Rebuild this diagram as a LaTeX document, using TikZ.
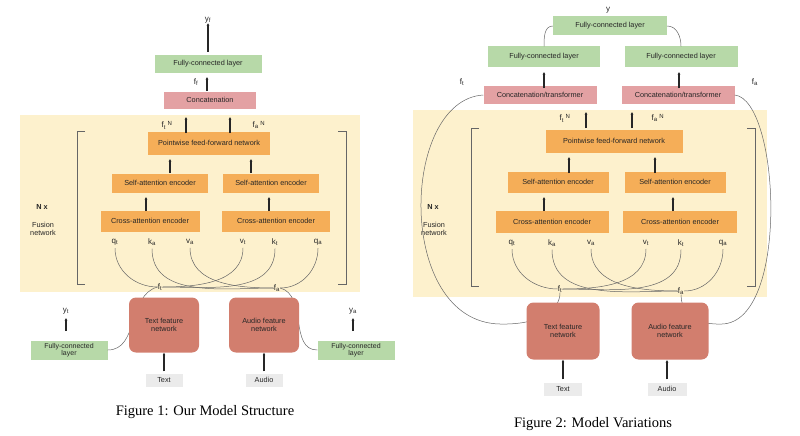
\documentclass[tikz,border=0pt]{standalone}
\usepackage{fontspec}
\setmainfont{Liberation Serif}
\newfontfamily\sfx{Liberation Sans}
\usetikzlibrary{arrows.meta}
\definecolor{fcg}{HTML}{B7D9A8}
\definecolor{cpk}{HTML}{E3A1A3}
\definecolor{orn}{HTML}{F5AE58}
\definecolor{ybg}{HTML}{FDF1CD}
\definecolor{fnet}{HTML}{D27E6E}
\definecolor{gbx}{HTML}{EBEBEB}
\begin{document}
\begin{tikzpicture}[x=1pt,y=-1pt,
  every node/.style={font=\sfx\fontsize{7.3}{8.5}\selectfont,text=black!85,inner sep=0pt},
  box/.style={minimum width=#1,minimum height=19pt,align=center},
  fc/.style={box=#1,fill=fcg},
  cp/.style={box=#1,fill=cpk},
  or/.style={box=#1,fill=orn},
  fn/.style={fill=fnet,rounded corners=7pt,minimum width=70pt,minimum height=55pt,align=center},
  gb/.style={fill=gbx,minimum width=37pt,minimum height=13pt},
  lbl/.style={font=\sfx\fontsize{8}{9}\selectfont},
  ar/.style={-{Latex[length=2.5pt,width=3pt]},line width=1.3pt,black!85},
  cv/.style={black!60,line width=0.5pt},
  br/.style={black!60,line width=0.6pt},
  figcap/.style={font=\rmfamily\fontsize{14.5}{16}\selectfont,text=black}]
\useasboundingbox (0,0) rectangle (800,436);
% ===== Figure 1 =====
\fill[ybg] (20,115) rectangle (360,292);
\node[lbl] (yf) at (208,20) {y\textsubscript{f}};
\node[fc=107pt,minimum height=18pt] (fc1) at (208,64) {Fully-connected layer};
\node[lbl] (ff) at (196,82) {f\textsubscript{f}};
\node[cp=92pt,minimum height=17pt] (cc1) at (210,100) {Concatenation};
\node[lbl] (ftN) at (167,125) {f\textsubscript{t}\textsuperscript{ N}};
\node[lbl] (faN) at (259,125) {f\textsubscript{a}\textsuperscript{ N}};
\node[or=122pt,minimum height=23pt] (pw1) at (209,143) {Pointwise feed-forward network};
\node[or=96pt] (sl1) at (160,183) {Self-attention encoder};
\node[or=96pt] (sr1) at (271,183) {Self-attention encoder};
\node[or=99pt,minimum height=21pt] (cl1) at (150,221) {Cross-attention encoder};
\node[or=108pt,minimum height=21pt] (cr1) at (276,221) {Cross-attention encoder};
\node[lbl] (q1) at (115,242) {q\textsubscript{t}};
\node[lbl] (k1) at (152,242) {k\textsubscript{a}};
\node[lbl] (v1) at (190,242) {v\textsubscript{a}};
\node[lbl] (vt1) at (243,242) {v\textsubscript{t}};
\node[lbl] (kt1) at (275,242) {k\textsubscript{t}};
\node[lbl] (qa1) at (318,242) {q\textsubscript{a}};
\node[lbl] (ft1) at (160,287) {f\textsubscript{t}};
\node[lbl] (fa1) at (277,288) {f\textsubscript{a}};
\node[font=\sfx\bfseries\fontsize{7.3}{8.5}\selectfont] (nx1) at (42,207) {N x};
\node[align=center] (fu1) at (43,229) {Fusion\\network};
\draw[br] (85,131) -- (77,131) -- (77,284) -- (85,284);
\draw[br] (338,131) -- (346,131) -- (346,284) -- (338,284);
\draw[ar] (fc1.north) ++(0,-3) -- (yf.south);
\draw[ar] (207,91) -- (207,77);
\draw[ar] (186,133) -- (186,117);
\draw[ar] (230,133) -- (230,117);
\draw[ar] (170,173) -- (170,159);
\draw[ar] (251,173) -- (251,159);
\draw[ar] (146,211) -- (146,197);
\draw[ar] (269,211) -- (269,197);
\draw[cv] (q1.south) ++(0,3) to[out=-90,in=180] (ft1.west);
\draw[cv] (vt1.south) ++(0,3) to[out=-90,in=0] (ft1.east);
\draw[cv] (kt1.south) ++(0,3) to[out=-90,in=0] (ft1.east);
\draw[cv] (k1.south) ++(0,3) to[out=-90,in=180] (fa1.west);
\draw[cv] (v1.south) ++(0,3) to[out=-90,in=180] (fa1.west);
\draw[cv] (qa1.south) ++(0,3) to[out=-90,in=0] (fa1.east);
\node[fc=77pt,minimum height=19pt,align=center,font=\sfx\fontsize{7}{7.6}\selectfont] (fcl1) at (69,350) {Fully-connected\\layer};
\node[fc=77pt,minimum height=19pt,align=center,font=\sfx\fontsize{7}{7.6}\selectfont] (fcr1) at (356,350) {Fully-connected\\layer};
\node[lbl] (yt1) at (66,311) {y\textsubscript{t}};
\node[lbl] (ya1) at (353,311) {y\textsubscript{a}};
\draw[ar] (66,331) -- (66,318);
\draw[ar] (353,331) -- (353,318);
\draw[cv] (ft1.west) to[out=195,in=0] (fcl1.east);
\draw[cv] (fa1.east) to[out=-15,in=180] (fcr1.west);
\node[fn] (tn1) at (164,325) {Text feature\\network};
\node[fn] (an1) at (264,325) {Audio feature\\network};
\node[gb] (tx1) at (164,380) {Text};
\node[gb] (au1) at (264,380) {Audio};
\draw[ar] (tx1.north) ++(0,-2) -- (tn1.south);
\draw[ar] (au1.north) ++(0,-2) -- (an1.south);
\node[figcap] (c1) at (205,412) {Figure 1: Our Model Structure};
% ===== Figure 2 =====
\fill[ybg] (413,110) rectangle (767,297);
\node[lbl] (y2) at (608,10) {y};
\node[fc=114pt] (tfc2) at (610,26) {Fully-connected layer};
\node[fc=112pt,minimum height=21pt] (fl2) at (544,57) {Fully-connected layer};
\node[fc=113pt,minimum height=21pt] (fr2) at (681,57) {Fully-connected layer};
\draw[cv] (tfc2.west) to[out=180,in=90] (fl2.north);
\draw[cv] (tfc2.east) to[out=0,in=90] (fr2.north);
\node[lbl] (ftl2) at (462,82) {f\textsubscript{t}};
\node[lbl] (fal2) at (755,82) {f\textsubscript{a}};
\node[cp=113pt,minimum height=18pt] (cl2c) at (540,95) {Concatenation/transformer};
\node[cp=113pt,minimum height=18pt] (cr2c) at (678,95) {Concatenation/transformer};
\draw[ar] (544,88) -- (544,72);
\draw[ar] (679,88) -- (679,72);
\node[lbl] (ftN2) at (565,118) {f\textsubscript{t}\textsuperscript{ N}};
\node[lbl] (faN2) at (658,118) {f\textsubscript{a}\textsuperscript{ N}};
\node[or=137pt,minimum height=23pt] (pw2) at (614,141) {Pointwise feed-forward network};
\node[or=101pt,minimum height=21pt] (sl2) at (558,182) {Self-attention encoder};
\node[or=101pt,minimum height=21pt] (sr2) at (675,182) {Self-attention encoder};
\node[or=113pt,minimum height=22pt] (cl2) at (552,222) {Cross-attention encoder};
\node[or=114pt,minimum height=22pt] (cr2) at (680,222) {Cross-attention encoder};
\draw[ar] (586,128) -- (586,112);
\draw[ar] (632,128) -- (632,112);
\draw[ar] (569,173) -- (569,157);
\draw[ar] (655,173) -- (655,157);
\draw[ar] (544,211) -- (544,197);
\draw[ar] (673,211) -- (673,197);
\node[lbl] (q2) at (512,243) {q\textsubscript{t}};
\node[lbl] (k2) at (552,243) {k\textsubscript{a}};
\node[lbl] (v2) at (591,243) {v\textsubscript{a}};
\node[lbl] (vt2) at (646,243) {v\textsubscript{t}};
\node[lbl] (kt2) at (681,243) {k\textsubscript{t}};
\node[lbl] (qa2) at (723,243) {q\textsubscript{a}};
\node[lbl] (ft2) at (560,289) {f\textsubscript{t}};
\node[lbl] (fa2) at (681,291) {f\textsubscript{a}};
\node[font=\sfx\bfseries\fontsize{7.3}{8.5}\selectfont] (nx2) at (433,207) {N x};
\node[align=center] (fu2) at (434,229) {Fusion\\network};
\draw[br] (479,128) -- (471,128) -- (471,286) -- (479,286);
\draw[br] (747,128) -- (755,128) -- (755,286) -- (747,286);
\draw[cv] (q2.south) ++(0,3) to[out=-90,in=180] (ft2.west);
\draw[cv] (vt2.south) ++(0,3) to[out=-90,in=0] (ft2.east);
\draw[cv] (kt2.south) ++(0,3) to[out=-90,in=0] (ft2.east);
\draw[cv] (k2.south) ++(0,3) to[out=-90,in=180] (fa2.west);
\draw[cv] (v2.south) ++(0,3) to[out=-90,in=180] (fa2.west);
\draw[cv] (qa2.south) ++(0,3) to[out=-90,in=0] (fa2.east);
\draw[cv] (cl2c.west) .. controls (400,100) and (395,322) .. (500,324) .. controls (540,325) and (560,310) .. (ft2.south);
\draw[cv] (cr2c.east) .. controls (780,100) and (790,322) .. (722,324) .. controls (690,325) and (681,310) .. (fa2.south);
\node[fn,minimum width=73pt,minimum height=57pt] (tn2) at (563,331) {Text feature\\network};
\node[fn,minimum width=77pt,minimum height=57pt] (an2) at (670,331) {Audio feature\\network};
\node[gb,minimum width=38pt] (tx2) at (563,389) {Text};
\node[gb,minimum width=39pt] (au2) at (667,389) {Audio};
\draw[ar] (tx2.north) ++(0,-3) -- (tn2.south);
\draw[ar] (au2.north) ++(0,-3) -- (667,360);
\node[figcap] (c2) at (593,424) {Figure 2: Model Variations};
\end{tikzpicture}
\end{document}
